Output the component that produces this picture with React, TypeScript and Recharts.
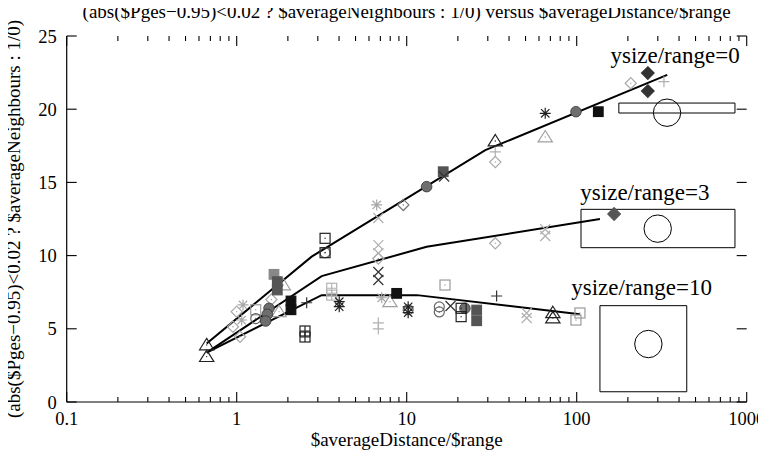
import React from 'react';
import { ScatterChart, Scatter, XAxis, YAxis, ReferenceArea, ReferenceDot, ReferenceLine } from 'recharts';

const FONT = '"Liberation Serif", "Times New Roman", Times, serif';

const titleText = '(abs($Pges\u22120.95)<0.02 ? $averageNeighbours : 1/0) versus $averageDistance/$range';
const xLabelText = '$averageDistance/$range';
const yLabelText = '(abs($Pges\u22120.95)<0.02 ? $averageNeighbours : 1/0)';

const xDomain = [0.1, 1000];
const yDomain = [0, 25];
const xMajorTicks = [0.1, 1, 10, 100, 1000];
const xMinorFactors = [2, 3, 4, 5, 6, 7, 8, 9];
const yTicks = [0, 5, 10, 15, 20, 25];
const xMinorTicks: number[] = [];
xMajorTicks.slice(0, -1).forEach((m) => xMinorFactors.forEach((f) => xMinorTicks.push(m * f)));

// fitted curves
const line0 = [{ x: 0.666, y: 4.0 }, { x: 2.76, y: 9.93 }, { x: 29, y: 17.2 }, { x: 341, y: 22.34 }];
const line3 = [{ x: 0.666, y: 3.37 }, { x: 3.16, y: 8.6 }, { x: 13.1, y: 10.6 }, { x: 137, y: 12.5 }];
const line10 = [{ x: 0.666, y: 3.37 }, { x: 3.16, y: 7.3 }, { x: 11.5, y: 7.3 }, { x: 104.5, y: 6.0 }];

// measured points
const triBlack = [{ x: 0.666, y: 3.9 }, { x: 0.666, y: 3.1 }, { x: 33.2, y: 17.83 }, { x: 72.4, y: 6.1 }, { x: 72.4, y: 5.74 }];
const triLight = [{ x: 1.88, y: 7.99 }, { x: 1.774, y: 6.17 }, { x: 7.97, y: 6.85 }, { x: 65.3, y: 18.1 }];
const fboxBlack = [{ x: 2.086, y: 6.9 }, { x: 2.086, y: 6.3 }, { x: 8.73, y: 7.42 }, { x: 134, y: 19.83 }];
const fboxDark = [{ x: 1.733, y: 8.22 }, { x: 1.733, y: 7.65 }, { x: 16.4, y: 15.73 }, { x: 25.8, y: 6.28 }, { x: 25.8, y: 5.55 }];
const fboxGray = [{ x: 1.657, y: 8.72 }];
const fcircleGray = [{ x: 1.549, y: 6.4 }, { x: 1.514, y: 5.99 }, { x: 1.481, y: 5.53 }, { x: 13.1, y: 14.71 }, { x: 99, y: 19.83 }, { x: 22.0, y: 6.4 }];
const boxBlack = [{ x: 3.31, y: 11.18 }, { x: 3.31, y: 10.2 }, { x: 20.9, y: 6.4 }, { x: 20.9, y: 5.83 }];
const boxPlusBlack = [{ x: 2.522, y: 4.85 }, { x: 2.522, y: 4.44 }];
const boxLight = [{ x: 16.8, y: 7.99 }, { x: 99, y: 5.6 }, { x: 104.5, y: 6.08 }, { x: 1.294, y: 6.3 }];
const boxPlusLight = [{ x: 3.62, y: 7.77 }, { x: 3.62, y: 7.3 }];
const starBlack = [{ x: 4.01, y: 6.85 }, { x: 4.01, y: 6.51 }, { x: 65.3, y: 19.72 }, { x: 10.2, y: 6.5 }, { x: 10.2, y: 6.1 }];
const starLight = [{ x: 1.089, y: 6.63 }, { x: 1.07, y: 5.6 }, { x: 6.66, y: 13.46 }, { x: 7.13, y: 7.12 }];
const crossDark = [{ x: 6.81, y: 8.88 }, { x: 6.81, y: 8.33 }, { x: 18.1, y: 6.56 }, { x: 16.6, y: 15.4 }];
const crossLight = [{ x: 6.81, y: 12.57 }, { x: 6.81, y: 10.72 }, { x: 6.81, y: 10.16 }, { x: 50.8, y: 6.08 }, { x: 50.8, y: 5.74 }, { x: 65.3, y: 11.8 }, { x: 65.3, y: 11.34 }];
const plusDark = [{ x: 2.58, y: 6.78 }, { x: 33.8, y: 7.24 }];
const plusLight = [{ x: 6.81, y: 5.4 }, { x: 6.81, y: 4.99 }, { x: 33.2, y: 17.08 }, { x: 326, y: 21.88 }];
const diamondLight = [{ x: 1.0, y: 6.17 }, { x: 0.951, y: 5.14 }, { x: 1.046, y: 4.46 }, { x: 33.2, y: 16.39 }, { x: 33.2, y: 10.84 }, { x: 208, y: 21.77 }, { x: 6.81, y: 9.8 }, { x: 1.6, y: 7.0 }];
const diamondGray = [{ x: 9.55, y: 13.46 }];
const fdiamondBlack = [{ x: 262, y: 22.47 }, { x: 262, y: 21.24 }];
const fdiamondDark = [{ x: 166, y: 12.84 }];
const circleGray = [{ x: 15.55, y: 6.15 }, { x: 15.55, y: 6.5 }, { x: 1.294, y: 5.7 }, { x: 3.31, y: 10.2 }, { x: 10.2, y: 6.3 }];

// inset objects
const insetBoxes = [
  { x1: 177, x2: 853, y1: 19.74, y2: 20.42 },
  { x1: 106, x2: 853, y1: 10.54, y2: 13.16 },
  { x1: 137, x2: 444, y1: 0.7, y2: 6.58 },
];
const insetCircles = [{ x: 340, y: 19.76 }, { x: 299.6, y: 11.84 }, { x: 264, y: 3.96 }];
const insetLabels = [
  { x: 379, y: 23.72, text: 'ysize/range=0' },
  { x: 252, y: 14.36, text: 'ysize/range=3' },
  { x: 241, y: 7.87, text: 'ysize/range=10' },
];

function Marker({ cx, cy, kind, color }: any) {
  if (cx == null || cy == null) return <g />;
  const sw = 1.2;
  const dot = <circle cx={cx} cy={cy} r={0.7} fill={color} />;
  switch (kind) {
    case 'plus': {
      const s = 5.5;
      return <path d={`M${cx - s},${cy}H${cx + s}M${cx},${cy - s}V${cy + s}`} stroke={color} strokeWidth={sw} fill="none" />;
    }
    case 'cross': {
      const s = 5;
      return <path d={`M${cx - s},${cy - s}L${cx + s},${cy + s}M${cx - s},${cy + s}L${cx + s},${cy - s}`} stroke={color} strokeWidth={sw} fill="none" />;
    }
    case 'star': {
      const s = 5.5;
      const d = 4.2;
      return <path d={`M${cx - s},${cy}H${cx + s}M${cx},${cy - s}V${cy + s}M${cx - d},${cy - d}L${cx + d},${cy + d}M${cx - d},${cy + d}L${cx + d},${cy - d}`} stroke={color} strokeWidth={sw} fill="none" />;
    }
    case 'box': {
      const s = 5;
      return <g><rect x={cx - s} y={cy - s} width={2 * s} height={2 * s} stroke={color} strokeWidth={sw} fill="none" />{dot}</g>;
    }
    case 'boxplus': {
      const s = 5;
      return <g><rect x={cx - s} y={cy - s} width={2 * s} height={2 * s} stroke={color} strokeWidth={sw} fill="none" /><path d={`M${cx - s},${cy}H${cx + s}M${cx},${cy - s}V${cy + s}`} stroke={color} strokeWidth={sw} /></g>;
    }
    case 'fbox': {
      const s = 4.8;
      return <rect x={cx - s} y={cy - s} width={2 * s} height={2 * s} stroke={color} strokeWidth={sw} fill={color} />;
    }
    case 'circle': {
      return <g><circle cx={cx} cy={cy} r={5} stroke={color} strokeWidth={sw} fill="none" />{dot}</g>;
    }
    case 'fcircle': {
      return <circle cx={cx} cy={cy} r={5.3} stroke="#333" strokeWidth={0.8} fill={color} />;
    }
    case 'tri': {
      const s = 6.5;
      return <g><path d={`M${cx},${cy - s}L${cx + s * 1.1},${cy + s * 0.75}L${cx - s * 1.1},${cy + s * 0.75}Z`} stroke={color} strokeWidth={sw} fill="none" />{dot}</g>;
    }
    case 'diamond': {
      const s = 5.6;
      return <g><path d={`M${cx},${cy - s}L${cx + s},${cy}L${cx},${cy + s}L${cx - s},${cy}Z`} stroke={color} strokeWidth={sw} fill="none" />{dot}</g>;
    }
    case 'fdiamond': {
      const s = 6.3;
      return <path d={`M${cx},${cy - s}L${cx + s},${cy}L${cx},${cy + s}L${cx - s},${cy}Z`} stroke={color} strokeWidth={sw} fill={color} />;
    }
    default:
      return <g />;
  }
}

const markerSeries = [
  { data: diamondLight, kind: 'diamond', color: '#a8a8a8' },
  { data: starLight, kind: 'star', color: '#a8a8a8' },
  { data: crossLight, kind: 'cross', color: '#b0b0b0' },
  { data: plusLight, kind: 'plus', color: '#b0b0b0' },
  { data: triLight, kind: 'tri', color: '#a0a0a0' },
  { data: boxLight, kind: 'box', color: '#9a9a9a' },
  { data: boxPlusLight, kind: 'boxplus', color: '#b4b4b4' },
  { data: diamondGray, kind: 'diamond', color: '#777' },
  { data: circleGray, kind: 'circle', color: '#666' },
  { data: fcircleGray, kind: 'fcircle', color: '#6e6e6e' },
  { data: fboxGray, kind: 'fbox', color: '#888' },
  { data: fboxDark, kind: 'fbox', color: '#555' },
  { data: crossDark, kind: 'cross', color: '#333' },
  { data: plusDark, kind: 'plus', color: '#333' },
  { data: starBlack, kind: 'star', color: '#222' },
  { data: triBlack, kind: 'tri', color: '#222' },
  { data: boxBlack, kind: 'box', color: '#222' },
  { data: boxPlusBlack, kind: 'boxplus', color: '#222' },
  { data: fboxBlack, kind: 'fbox', color: '#111' },
  { data: fdiamondBlack, kind: 'fdiamond', color: '#333' },
  { data: fdiamondDark, kind: 'fdiamond', color: '#555' },
];

const fitLines = [line0, line3, line10];

const TICK_FONT = 18.5;
const tickText = { fontSize: TICK_FONT, fontFamily: FONT, fill: '#000' };
const fmt = (v: number) => String(+Number(v).toPrecision(6));

const W = 766;
const H = 457;
const Y_AXIS_W = 50;
const X_AXIS_H = 40;
const M = { top: 36, right: 19.3, bottom: 15, left: 16.7 };
const MAJOR_LEN = 10;
const MINOR_LEN = 5;

export default function App() {
  const plotLeft = M.left + Y_AXIS_W;
  const plotRight = W - M.right;
  const plotTop = M.top;
  const plotBottom = H - M.bottom - X_AXIS_H;
  const cx = (plotLeft + plotRight) / 2;
  const cy = (plotTop + plotBottom) / 2;

  // tick lengths expressed in data units (inward ticks, as gnuplot draws them)
  const yPerPx = (yDomain[1] - yDomain[0]) / (plotBottom - plotTop);
  const logPerPx = Math.log10(xDomain[1] / xDomain[0]) / (plotRight - plotLeft);
  const xTickLines: { x: number; len: number }[] = [
    ...xMajorTicks.map((x) => ({ x, len: MAJOR_LEN * yPerPx })),
    ...xMinorTicks.map((x) => ({ x, len: MINOR_LEN * yPerPx })),
  ];
  const yInnerLeft = xDomain[0] * Math.pow(10, MAJOR_LEN * logPerPx);
  const yInnerRight = xDomain[1] / Math.pow(10, MAJOR_LEN * logPerPx);
  const tickStroke = { stroke: '#000', strokeWidth: 1.1 };

  return (
    <div style={{ position: 'relative', left: -8, top: -8, width: W, height: H }}>
      <ScatterChart width={W} height={H} margin={M}>
        <XAxis
          type="number"
          dataKey="x"
          scale="log"
          domain={xDomain}
          allowDataOverflow
          ticks={xMajorTicks}
          interval={0}
          tickSize={0}
          tickMargin={10}
          tickLine={false}
          tick={tickText}
          tickFormatter={fmt}
          height={X_AXIS_H}
          axisLine={{ stroke: '#000', strokeWidth: 1.2 }}
        />
        <XAxis
          xAxisId="top"
          orientation="top"
          type="number"
          dataKey="x"
          scale="log"
          domain={xDomain}
          allowDataOverflow
          ticks={xMajorTicks}
          interval={0}
          tickLine={false}
          tick={false}
          height={0}
          axisLine={{ stroke: '#000', strokeWidth: 1.2 }}
        />
        <YAxis
          type="number"
          dataKey="y"
          domain={yDomain}
          allowDataOverflow
          ticks={yTicks}
          interval={0}
          tickSize={0}
          tickMargin={10}
          tickLine={false}
          tick={tickText}
          width={Y_AXIS_W}
          axisLine={{ stroke: '#000', strokeWidth: 1.2 }}
        />
        <YAxis
          yAxisId="right"
          orientation="right"
          type="number"
          dataKey="y"
          domain={yDomain}
          allowDataOverflow
          ticks={yTicks}
          interval={0}
          tickLine={false}
          tick={false}
          width={0}
          axisLine={{ stroke: '#000', strokeWidth: 1.2 }}
        />
        {xTickLines.map((t, i) => (
          <ReferenceLine key={'xb' + i} segment={[{ x: t.x, y: yDomain[0] }, { x: t.x, y: yDomain[0] + t.len }]} {...tickStroke} ifOverflow="visible" />
        ))}
        {xTickLines.map((t, i) => (
          <ReferenceLine key={'xt' + i} segment={[{ x: t.x, y: yDomain[1] }, { x: t.x, y: yDomain[1] - t.len }]} {...tickStroke} ifOverflow="visible" />
        ))}
        {yTicks.map((v, i) => (
          <ReferenceLine key={'yl' + i} segment={[{ x: xDomain[0], y: v }, { x: yInnerLeft, y: v }]} {...tickStroke} ifOverflow="visible" />
        ))}
        {yTicks.map((v, i) => (
          <ReferenceLine key={'yr' + i} segment={[{ x: xDomain[1], y: v }, { x: yInnerRight, y: v }]} {...tickStroke} ifOverflow="visible" />
        ))}
        {insetBoxes.map((b, i) => (
          <ReferenceArea key={'b' + i} x1={b.x1} x2={b.x2} y1={b.y1} y2={b.y2} fill="none" fillOpacity={0} stroke="#000" strokeWidth={1} ifOverflow="visible" />
        ))}
        {insetCircles.map((c, i) => (
          <ReferenceDot key={'c' + i} x={c.x} y={c.y} r={13.7} fill="none" stroke="#000" strokeWidth={1} ifOverflow="visible" />
        ))}
        {insetLabels.map((l, i) => (
          <ReferenceDot
            key={'t' + i}
            x={l.x}
            y={l.y}
            r={0}
            fill="none"
            stroke="none"
            ifOverflow="visible"
            label={{ value: l.text, position: 'center', fontSize: 23, fontFamily: FONT, fill: '#000' }}
          />
        ))}
        {fitLines.map((d, i) => (
          <Scatter
            key={'l' + i}
            data={d}
            line={{ stroke: '#000', strokeWidth: 2 }}
            shape={() => <g />}
            isAnimationActive={false}
          />
        ))}
        {markerSeries.map((s, i) => (
          <Scatter
            key={'s' + i}
            data={s.data}
            isAnimationActive={false}
            shape={(p: any) => <Marker cx={p.cx} cy={p.cy} kind={s.kind} color={s.color} />}
          />
        ))}
      </ScatterChart>
      <svg width={W} height={H} style={{ position: 'absolute', left: 0, top: 0, pointerEvents: 'none' }}>
        <text x={cx} y={18} textAnchor="middle" fontSize={19} fontFamily={FONT} fill="#000">
          {titleText}
        </text>
        <text x={cx} y={446} textAnchor="middle" fontSize={19} fontFamily={FONT} fill="#000">
          {xLabelText}
        </text>
        <text x={20} y={cy} textAnchor="middle" fontSize={19} fontFamily={FONT} fill="#000" transform={`rotate(-90 20 ${cy})`}>
          {yLabelText}
        </text>
      </svg>
    </div>
  );
}
